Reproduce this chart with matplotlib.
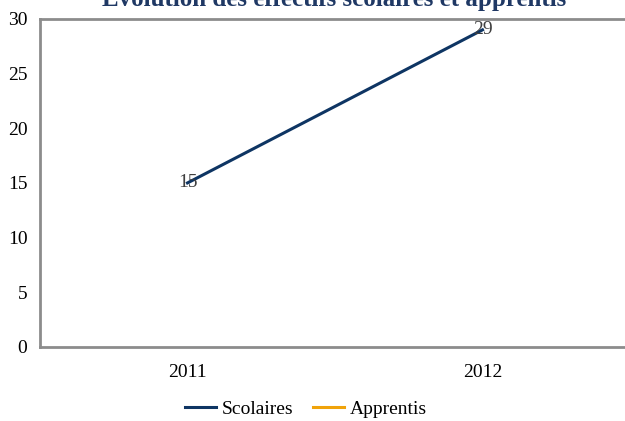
import numpy as np
import matplotlib
matplotlib.use("Agg")
import matplotlib.pyplot as plt

# data
annees = ["2011", "2012"]
scolaires = [15, 29]
apprentis = [np.nan, np.nan]
yticks = [0, 5, 10, 15, 20, 25, 30]

plt.rcParams['font.family'] = ['Liberation Serif', 'DejaVu Serif']

fig = plt.figure(figsize=(6.25, 4.21), dpi=100)
ax = fig.add_axes([0.064, 0.176, 0.944, 0.779])

x = np.arange(len(annees))
ax.plot(x, scolaires, color="#0E3563", lw=2.2, label="Scolaires")
ax.plot(x, apprentis, color="#F0A30A", lw=2.2, label="Apprentis")

# data labels centred on points
for xi, v in zip(x, scolaires):
    ax.text(xi, v, str(v), ha="center", va="center", fontsize=14, color="#404040")

ax.set_xlim(-0.5, 1.5)
ax.set_ylim(0, 30)
ax.set_yticks(yticks)
ax.set_xticks(x)
ax.set_xticklabels(annees)
ax.tick_params(axis="both", length=0, labelsize=14, colors="#000000")
ax.tick_params(axis="y", pad=9)
ax.tick_params(axis="x", pad=12)

for s in ax.spines.values():
    s.set_color("#8C8C8C")
    s.set_linewidth(2)
# the frame runs past the right edge in the original
ax.spines["right"].set_visible(False)

fig.text(0.535, 1.006, "Évolution des effectifs scolaires et apprentis",
         ha="center", va="center", fontsize=18, fontweight="bold", color="#1F3864")

fig.legend(loc="center", bbox_to_anchor=(0.49, 0.028), ncol=2, frameon=False,
           fontsize=14, handlelength=1.6, handletextpad=0.3, columnspacing=1.0)

fig.savefig("out.png", dpi=100)
